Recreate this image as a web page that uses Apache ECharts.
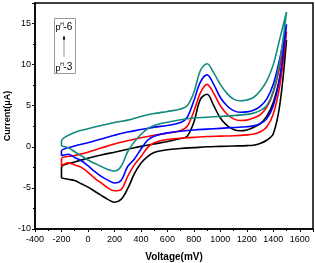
<!DOCTYPE html>
<html><head><meta charset="utf-8">
<script src="https://cdn.jsdelivr.net/npm/echarts@6/dist/echarts.min.js"></script>
<style>html,body{margin:0;padding:0;background:#fff}#c{width:315px;height:263px}</style>
</head><body><div id="c"></div>
<script>
// Voltage grids (mV): forward branch (lower, cathodic peak) and reverse branch (upper, anodic peak)
const voltageFwd = [-200,-150,-100,-50,0,50,100,150,200,250,300,350,400,450,500,600,700,800,900,1000,1100,1200,1250,1300,1350,1400,1450,1500];
const voltageRev = [1450,1400,1350,1300,1250,1200,1150,1100,1050,1000,950,900,850,800,750,700,600,500,400,300,200,100,0,-100,-200];

// Currents (µA)
const blackFwd = [-3.8,-3.95,-4.1,-4.5,-4.9,-5.4,-5.9,-6.4,-6.75,-6.4,-5.1,-3.3,-2.0,-1.2,-0.7,-0.35,-0.2,-0.1,0.0,0.05,0.1,0.15,0.2,0.4,0.8,1.6,5.2,13.0];
const blackRev = [8.5,5.4,3.7,2.8,2.35,2.05,1.95,2.1,2.6,3.5,5.0,6.4,5.8,3.0,1.3,1.0,0.65,0.35,0.05,-0.3,-0.65,-1.0,-1.4,-1.85,-2.5];
const redFwd = [-2.3,-1.95,-2.2,-2.5,-3.1,-3.8,-4.4,-5.0,-5.35,-5.2,-3.6,-2.2,-1.2,-0.1,0.5,0.9,1.05,1.15,1.25,1.3,1.35,1.45,1.55,1.8,2.4,4.0,7.5,14.0];
const redRev = [9.8,6.6,4.8,3.9,3.5,3.25,3.2,3.4,4.0,5.0,6.5,7.6,6.6,4.3,2.5,2.0,1.65,1.4,1.1,0.75,0.35,-0.15,-0.65,-1.05,-1.45];
const blueFwd = [-1.1,-0.9,-1.3,-1.7,-2.3,-3.0,-3.6,-4.05,-4.4,-4.1,-2.4,-1.5,-0.3,0.8,1.3,1.7,1.9,2.05,2.15,2.25,2.35,2.45,2.55,2.8,3.4,5.0,8.5,14.9];
const blueRev = [10.8,7.6,5.8,4.9,4.45,4.25,4.2,4.4,5.0,6.0,7.6,8.75,7.9,5.6,3.6,2.95,2.6,2.4,2.1,1.8,1.4,0.95,0.5,0.1,-0.5];
const tealFwd = [0.1,-0.1,-0.6,-1.1,-1.6,-2.0,-2.4,-2.75,-2.95,-2.4,-0.6,0.6,1.5,2.2,2.6,3.0,3.3,3.5,3.6,3.7,3.8,3.95,4.1,4.4,5.0,6.8,10.5,16.4];
const tealRev = [13.2,10.0,8.0,6.8,6.0,5.7,5.6,5.8,6.5,7.6,9.0,10.1,9.3,6.6,5.0,4.6,4.3,4.05,3.7,3.25,2.95,2.6,2.2,1.75,0.7];

const xTicks = {min:-400, max:1700, interval:200};
const yTicks = {min:-10, max:17.5, interval:5};

function loop(fwd, rev){
  const d = fwd.map((v,i)=>[voltageFwd[i], v]).concat(rev.map((v,i)=>[voltageRev[i], v]));
  d.push(d[0].slice());
  return d;
}
const curves = [
  {name:'pH-3', color:'#000000', data: loop(blackFwd, blackRev)},
  {name:'pH-4', color:'#ff0000', data: loop(redFwd, redRev)},
  {name:'pH-5', color:'#0000ff', data: loop(blueFwd, blueRev)},
  {name:'pH-6', color:'#138a80', data: loop(tealFwd, tealRev)}
];

const FONT = 'Arial, "Liberation Sans", sans-serif';
const chart = echarts.init(document.getElementById('c'), null, {renderer:'canvas'});
chart.setOption({
  animation:false,
  backgroundColor:'#fff',
  grid:{left:35, right:2, top:3, bottom:34, containLabel:false, outerBoundsMode:'none',
        show:true, borderColor:'#000', borderWidth:1.5, backgroundColor:'transparent'},
  xAxis:{
    type:'value', min:xTicks.min, max:xTicks.max, interval:xTicks.interval,
    name:'Voltage(mV)', nameLocation:'middle', nameGap:23, nameMoveOverlap:false,
    nameTextStyle:{fontFamily:FONT, fontWeight:'bold', fontSize:10, color:'#000'},
    axisLine:{show:true, onZero:false, lineStyle:{color:'#000', width:1.5}},
    axisTick:{show:true, length:3, lineStyle:{color:'#000', width:1}},
    minorTick:{show:true, splitNumber:2, length:2, lineStyle:{color:'#000', width:1}},
    axisLabel:{fontFamily:FONT, fontSize:9, color:'#000', margin:6, showMaxLabel:false, hideOverlap:false, formatter:v=>String(v)},
    splitLine:{show:false}
  },
  yAxis:{
    type:'value', min:yTicks.min, max:yTicks.max, interval:yTicks.interval,
    name:'Current(\u03bcA)', nameLocation:'middle', nameGap:23, nameMoveOverlap:false,
    nameTextStyle:{fontFamily:FONT, fontWeight:'bold', fontSize:9, color:'#000'},
    axisLine:{show:true, onZero:false, lineStyle:{color:'#000', width:1.5}},
    axisTick:{show:true, length:3, lineStyle:{color:'#000', width:1}},
    minorTick:{show:true, splitNumber:2, length:2, lineStyle:{color:'#000', width:1}},
    axisLabel:{fontFamily:FONT, fontSize:9, color:'#000', margin:4, showMaxLabel:false, formatter:v=>String(v)},
    splitLine:{show:false}
  },
  series: curves.map(c=>({
    type:'line', name:c.name, data:c.data, smooth:0.35, symbol:'none',
    lineStyle:{color:c.color, width:1.6}, z:2
  })),
  graphic:[
    {type:'rect', shape:{x:54.5, y:18.5, width:21, height:55}, style:{fill:'#fff', stroke:'#999', lineWidth:1}, z:10},
    {type:'text', x:55.5, y:28, style:{text:'p', font:'9px '+FONT, fill:'#000', textVerticalAlign:'middle'}, z:11},
    {type:'text', x:60.3, y:24.5, style:{text:'H', font:'5px '+FONT, fill:'#000', textVerticalAlign:'middle'}, z:11},
    {type:'text', x:63.3, y:27, style:{text:'-6', font:'10px '+FONT, fill:'#000', textVerticalAlign:'middle'}, z:11},
    {type:'line', shape:{x1:64, y1:57, x2:64, y2:38}, style:{stroke:'#777', lineWidth:0.8}, z:11},
    {type:'polygon', shape:{points:[[64,35],[62.6,39.5],[65.4,39.5]]}, style:{fill:'#000'}, z:11},
    {type:'text', x:55.5, y:68.5, style:{text:'p', font:'9px '+FONT, fill:'#000', textVerticalAlign:'middle'}, z:11},
    {type:'text', x:60.3, y:65, style:{text:'H', font:'5px '+FONT, fill:'#000', textVerticalAlign:'middle'}, z:11},
    {type:'text', x:63.3, y:67.5, style:{text:'-3', font:'10px '+FONT, fill:'#000', textVerticalAlign:'middle'}, z:11}
  ]
});
</script></body></html>
